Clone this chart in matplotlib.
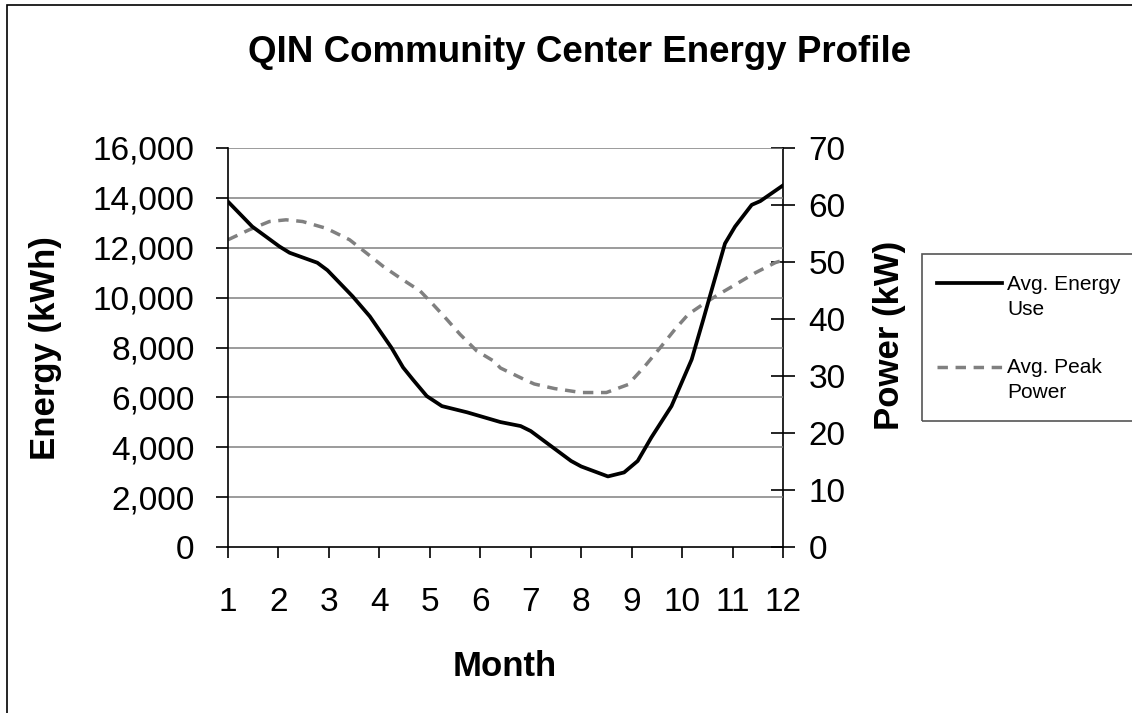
import numpy as np
import matplotlib
matplotlib.use('Agg')
import matplotlib.pyplot as plt
from matplotlib.patches import Rectangle
from matplotlib.lines import Line2D
from matplotlib.ticker import FuncFormatter

plt.rcParams['font.family'] = ['Liberation Sans', 'DejaVu Sans']

# values (month position, value)
energy_month = [1.0, 1.48, 1.75, 2.02, 2.22, 2.77, 2.97, 3.47, 3.81, 4.24, 4.47, 4.67,
                4.94, 5.24, 5.74, 6.40, 6.80, 7.00, 7.40, 7.80, 8.00, 8.53, 8.85,
                9.12, 9.39, 9.79, 10.19, 10.42, 10.55, 10.85, 11.05, 11.38, 11.55, 12.0]
energy_kwh = [13850, 12850, 12450, 12050, 11800, 11400, 11100, 10050, 9250, 7990, 7200, 6700,
              6050, 5650, 5400, 5010, 4850, 4650, 4050, 3450, 3230, 2830, 2990,
              3450, 4390, 5650, 7520, 9120, 10050, 12170, 12850, 13720, 13870, 14500]

power_month = [1.0, 1.42, 1.82, 2.15, 2.48, 2.95, 3.41, 3.74, 4.08, 4.41, 4.81, 5.07,
               5.34, 5.60, 5.93, 6.27, 6.40, 6.87, 7.07, 7.47, 8.00, 8.50, 8.93,
               9.26, 9.56, 9.86, 10.12, 10.45, 10.72, 11.05, 11.45, 11.85, 12.0]
power_kw = [53.9, 55.65, 57.1, 57.4, 57.1, 55.9, 53.9, 51.6, 49.2, 47.2, 44.9, 42.5,
            39.9, 37.3, 34.4, 32.6, 31.4, 29.4, 28.6, 27.8, 27.1, 27.1, 28.5,
            31.7, 34.9, 38.2, 40.8, 42.8, 44.3, 46.0, 48.1, 49.9, 50.3]

months = list(range(1, 13))
energy_ticks = list(range(0, 16001, 2000))
power_ticks = list(range(0, 71, 10))

W, H = 1132, 713


def fx(px):
    return px / W


def fy(py):
    return 1 - py / H


fig = plt.figure(figsize=(W / 100, H / 100), dpi=100)
# outer chart border (right and bottom fall outside the picture)
fig.patches.append(Rectangle((fx(7), fy(760)), 1.2, (760 - 5) / H, transform=fig.transFigure,
                             fill=False, edgecolor='black', linewidth=1.2))

ax = fig.add_axes([fx(228), fy(547), (783 - 228) / W, (547 - 148) / H])
ax2 = ax.twinx()

energy_style = dict(color='black', linewidth=2.7, solid_joinstyle='round')
power_style = dict(color='#808080', linewidth=2.5, linestyle=(0, (3.0, 2.2)))

ax.plot(energy_month, energy_kwh, zorder=5, **energy_style)
ax2.plot(power_month, power_kw, **power_style)
ax.set_zorder(ax2.get_zorder() + 1)
ax.patch.set_visible(False)

ax.set_xlim(1, 12)
ax.set_ylim(0, 16000)
ax2.set_ylim(0, 70)
ax.set_xticks(months)
ax.set_yticks(energy_ticks)
ax2.set_yticks(power_ticks)
ax.yaxis.set_major_formatter(FuncFormatter(lambda v, p: f'{int(v):,}'))

for y in energy_ticks[1:]:
    ax.axhline(y, color='#808080', linewidth=1.1, zorder=0)

ax.spines['top'].set_visible(False)
ax.spines['right'].set_visible(False)
for s in ['top', 'left', 'bottom']:
    ax2.spines[s].set_visible(False)
for sp in [ax.spines['left'], ax.spines['bottom'], ax2.spines['right']]:
    sp.set_linewidth(1.2)

ax.tick_params(axis='y', labelsize=24, width=1.2, length=9, direction='out', pad=15)
ax.tick_params(axis='x', labelsize=24, width=1.2, length=8, direction='out', pad=21)
ax2.tick_params(axis='y', labelsize=24, width=1.2, length=17, direction='inout', pad=10)

fig.text(fx(505), fy(667), 'Month', ha='center', va='center', fontsize=25, fontweight='bold')
fig.text(fx(46), fy(348), 'Energy (kWh)', ha='center', va='center', rotation=90,
         fontsize=25, fontweight='bold')
fig.text(fx(890), fy(335), 'Power (kW)', ha='center', va='center', rotation=90,
         fontsize=25, fontweight='bold')

fig.text(fx(580), fy(53), 'QIN Community Center Energy Profile', ha='center',
         va='center', fontsize=26.5, fontweight='bold')

# legend box, drawn by hand so the key line sits on the first text line
fig.patches.append(Rectangle((fx(922), fy(421)), 0.3, (421 - 254) / H, transform=fig.transFigure,
                             fill=False, edgecolor='#555555', linewidth=1.2))
fig.add_artist(Line2D([fx(937), fx(1002)], [fy(283), fy(283)], transform=fig.transFigure,
                      **energy_style))
fig.add_artist(Line2D([fx(937), fx(1004)], [fy(367), fy(367)], transform=fig.transFigure,
                      **power_style))
legend_lines = [('Avg. Energy', 290), ('Use', 315), ('Avg. Peak', 373), ('Power', 398)]
for txt, base in legend_lines:
    fig.text(fx(1007), fy(base), txt, ha='left', va='baseline', fontsize=15)

fig.savefig('out.png', dpi=100)
